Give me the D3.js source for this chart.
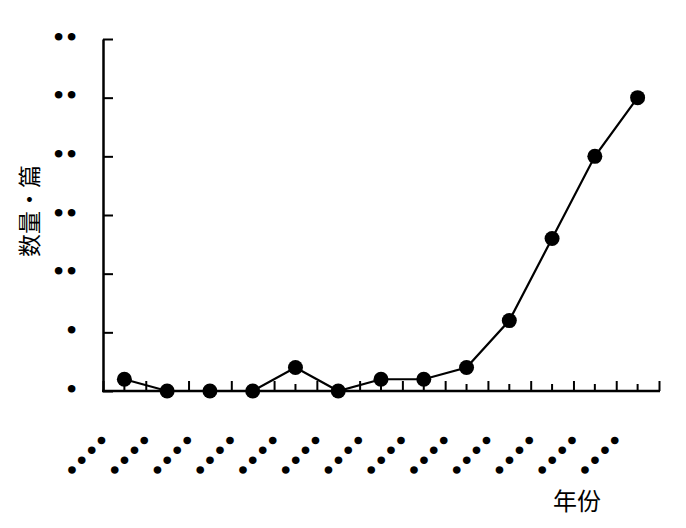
<!DOCTYPE html>
<html>
<head>
<meta charset="utf-8">
<script src="https://cdn.jsdelivr.net/npm/d3@7"></script>
<style>
  html, body { margin: 0; padding: 0; background: #fff; }
  svg { display: block; }
</style>
</head>
<body>
<div id="chart"></div>
<script>
// ---- data ----
const values = [1, 0, 0, 0, 2, 0, 1, 1, 2, 6, 13, 20, 25];
const xTickLabels = ["••••","••••","••••","••••","••••","••••","••••","••••","••••","••••","••••","••••","••••"];
const yTickValues = [0, 5, 10, 15, 20, 25, 30];
const yTickLabels = ["•", "•", "••", "••", "••", "••", "••"];
const yTitle = "数量•篇";
const xTitle = "年份";

// ---- layout ----
const W = 686, H = 528;
const svg = d3.select("#chart").append("svg").attr("width", W).attr("height", H);

const idx = values.map((d, i) => i);
const x = d3.scaleBand().domain(idx).range([103, 659]).padding(0);
const xb = d3.scaleLinear().domain([0, values.length]).range([103, 659]);
const y = d3.scaleLinear().domain([0, 30]).range([391, 39]);

// y axis
const yAxis = d3.axisLeft(y)
  .tickValues(yTickValues)
  .tickSizeInner(-10)
  .tickSizeOuter(0)
  .tickPadding(24)
  .tickFormat((d, i) => yTickLabels[i]);
const gy = svg.append("g").attr("transform", "translate(103,0)").call(yAxis);
gy.select(".domain").attr("stroke", "#000").attr("stroke-width", 2.5);
gy.selectAll(".tick line").attr("stroke", "#000").attr("stroke-width", 2);
gy.selectAll(".tick text")
  .attr("font-family", "Liberation Serif")
  .attr("font-size", 32)
  .attr("letter-spacing", 1.8)
  .attr("dy", "0.25em")
  .attr("fill", "#000");

// x axis: major ticks at band boundaries
const xAxisMajor = d3.axisBottom(xb)
  .tickValues(d3.range(values.length + 1))
  .tickSizeInner(-10)
  .tickSizeOuter(0)
  .tickFormat("");
const gx = svg.append("g").attr("transform", "translate(0,391)").call(xAxisMajor);
gx.select(".domain").attr("stroke", "#000").attr("stroke-width", 2.5)
  .attr("d", "M102,0H660");
gx.selectAll(".tick line").attr("stroke", "#000").attr("stroke-width", 2);

// minor ticks at band centers
const xAxisMinor = d3.axisBottom(x).tickSizeInner(-7).tickSizeOuter(0).tickFormat("");
const gx2 = svg.append("g").attr("transform", "translate(0,391)").call(xAxisMinor);
gx2.select(".domain").remove();
gx2.selectAll(".tick line").attr("stroke", "#000").attr("stroke-width", 2);

// x tick labels (rotated)
svg.append("g").selectAll("text")
  .data(xTickLabels)
  .join("text")
  .attr("transform", (d, i) => "translate(" + (xb(i) + 12) + ",442) rotate(-45)")
  .attr("text-anchor", "end")
  .attr("font-family", "Liberation Serif")
  .attr("font-size", 32)
  .attr("letter-spacing", 2.8)
  .attr("fill", "#000")
  .text(d => d);

// line + points
const line = d3.line().x((d, i) => x(i) + x.bandwidth() / 2).y(d => y(d));
svg.append("path").datum(values)
  .attr("d", line)
  .attr("fill", "none")
  .attr("stroke", "#000")
  .attr("stroke-width", 2.2);
svg.append("g").selectAll("circle")
  .data(values)
  .join("circle")
  .attr("cx", (d, i) => x(i) + x.bandwidth() / 2)
  .attr("cy", d => y(d))
  .attr("r", 7.5)
  .attr("fill", "#000");

// titles
svg.append("text")
  .attr("transform", "translate(38,211) rotate(-90)")
  .attr("text-anchor", "middle")
  .attr("font-family", "Noto Sans CJK SC")
  .attr("font-size", 23)
  .attr("fill", "#000")
  .text(yTitle);
svg.append("text")
  .attr("x", 577)
  .attr("y", 510)
  .attr("text-anchor", "middle")
  .attr("font-family", "Noto Sans CJK SC")
  .attr("font-size", 24)
  .attr("fill", "#000")
  .text(xTitle);
</script>
</body>
</html>
